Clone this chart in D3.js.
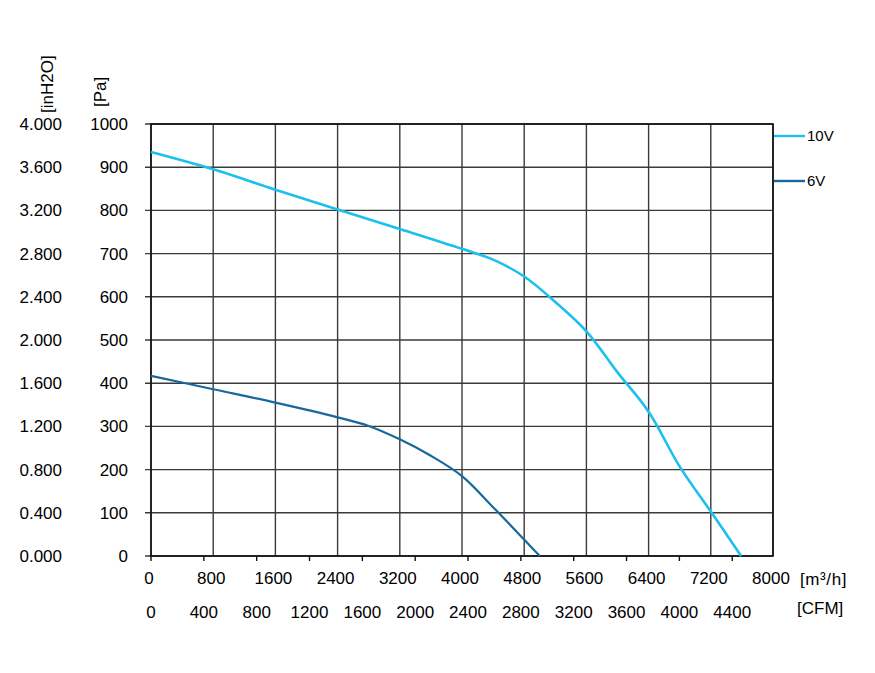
<!DOCTYPE html>
<html>
<head>
<meta charset="utf-8">
<script src="https://cdn.jsdelivr.net/npm/d3@7"></script>
<style>
  body { margin: 0; background: #fff; }
  svg text { font-family: "Liberation Sans", Arial, sans-serif; font-size: 17px; fill: #000; }
</style>
</head>
<body>
<svg id="chart" width="875" height="673"></svg>
<script>
// airflow [m³/h] vs static pressure [Pa]
const flow10V = [0, 800, 1600, 2400, 3200, 4000, 4400, 4800, 5200, 5600, 6000, 6400, 6800, 7200, 7590];
const pres10V = [935, 895, 848, 802, 757, 711, 686, 647, 588, 520, 425, 334, 207, 103, 0];

const flow6V = [0, 800, 1600, 2400, 2800, 3200, 3600, 4000, 4400, 4800, 5000];
const pres6V = [417, 386, 355, 321, 301, 270, 232, 185, 113, 38, 0];

const flowTicks = [0, 800, 1600, 2400, 3200, 4000, 4800, 5600, 6400, 7200, 8000];
const cfmTicks = [0, 400, 800, 1200, 1600, 2000, 2400, 2800, 3200, 3600, 4000, 4400];
const paTicks = [0, 100, 200, 300, 400, 500, 600, 700, 800, 900, 1000];
const inH2OLabels = ["0.000", "0.400", "0.800", "1.200", "1.600", "2.000", "2.400", "2.800", "3.200", "3.600", "4.000"];

const seriesNames = ["10V", "6V"];
const seriesColors = ["#1cc0ee", "#17699c"];

const plotL = 151, plotR = 773, plotT = 124, plotB = 556;
const M3H_PER_CFM = 1.699;

const svg = d3.select("#chart");

const x = d3.scaleLinear().domain([0, 8000]).range([plotL, plotR]);
const y = d3.scaleLinear().domain([0, 1000]).range([plotB, plotT]);

// grid
const grid = svg.append("g");
grid.selectAll("line.v")
    .data(flowTicks)
    .enter()
    .append("line")
    .attr("x1", d => x(d)).attr("x2", d => x(d))
    .attr("y1", plotT).attr("y2", plotB)
    .attr("stroke", "#3a3a3a")
    .attr("stroke-width", 1.4);
grid.selectAll("line.h")
    .data(paTicks)
    .enter()
    .append("line")
    .attr("x1", plotL - 6).attr("x2", plotR)
    .attr("y1", d => y(d)).attr("y2", d => y(d))
    .attr("stroke", "#3a3a3a")
    .attr("stroke-width", 1.4);

// frame
svg.append("rect")
    .attr("x", plotL).attr("y", plotT)
    .attr("width", plotR - plotL).attr("height", plotB - plotT)
    .attr("fill", "none")
    .attr("stroke", "#111")
    .attr("stroke-width", 1.6);

// CFM tick marks under the x axis
svg.selectAll("line.cfm")
    .data(cfmTicks)
    .enter()
    .append("line")
    .attr("x1", d => x(d * M3H_PER_CFM)).attr("x2", d => x(d * M3H_PER_CFM))
    .attr("y1", plotB).attr("y2", plotB + 5)
    .attr("stroke", "#111")
    .attr("stroke-width", 1.4);

// x labels m³/h
svg.selectAll("text.flow")
    .data(flowTicks)
    .enter()
    .append("text")
    .attr("x", d => x(d) - 2)
    .attr("y", 584)
    .style("text-anchor", "middle")
    .text(d => d);
svg.append("text").attr("x", 800).attr("y", 585)
    .style("letter-spacing", "0.6px").text("[m³/h]");

// x labels CFM
svg.selectAll("text.cfm")
    .data(cfmTicks)
    .enter()
    .append("text")
    .attr("x", d => x(d * M3H_PER_CFM))
    .attr("y", 618)
    .style("text-anchor", "middle")
    .text(d => d);
svg.append("text").attr("x", 797).attr("y", 614).text("[CFM]");

// y labels Pa and inH2O
svg.selectAll("text.pa")
    .data(paTicks)
    .enter()
    .append("text")
    .attr("x", 128)
    .attr("y", d => y(d) + 6)
    .style("text-anchor", "end")
    .text(d => d);
svg.selectAll("text.inh2o")
    .data(paTicks)
    .enter()
    .append("text")
    .attr("x", 62)
    .attr("y", d => y(d) + 6)
    .style("text-anchor", "end")
    .text((d, i) => inH2OLabels[i]);

svg.append("text")
    .attr("transform", "translate(53,113) rotate(-90)")
    .text("[inH2O]");
svg.append("text")
    .attr("transform", "translate(106,107) rotate(-90)")
    .text("[Pa]");

// curves
const line = d3.line()
    .x(d => x(d[0]))
    .y(d => y(d[1]))
    .curve(d3.curveCatmullRom.alpha(0.5));

const series = [
    d3.zip(flow10V, pres10V),
    d3.zip(flow6V, pres6V)
];

svg.selectAll("path.curve")
    .data(series)
    .enter()
    .append("path")
    .attr("d", d => line(d))
    .attr("fill", "none")
    .attr("stroke", (d, i) => seriesColors[i])
    .attr("stroke-width", (d, i) => i === 0 ? 2.6 : 2.2);

// legend
const legendY = [136, 181];
seriesNames.forEach((name, i) => {
    svg.append("line")
        .attr("x1", plotR + 1).attr("x2", 805)
        .attr("y1", legendY[i]).attr("y2", legendY[i])
        .attr("stroke", seriesColors[i])
        .attr("stroke-width", 2.4);
    svg.append("text")
        .attr("x", 807)
        .attr("y", legendY[i] + 5)
        .style("font-size", "15px")
        .text(name);
});
</script>
</body>
</html>
